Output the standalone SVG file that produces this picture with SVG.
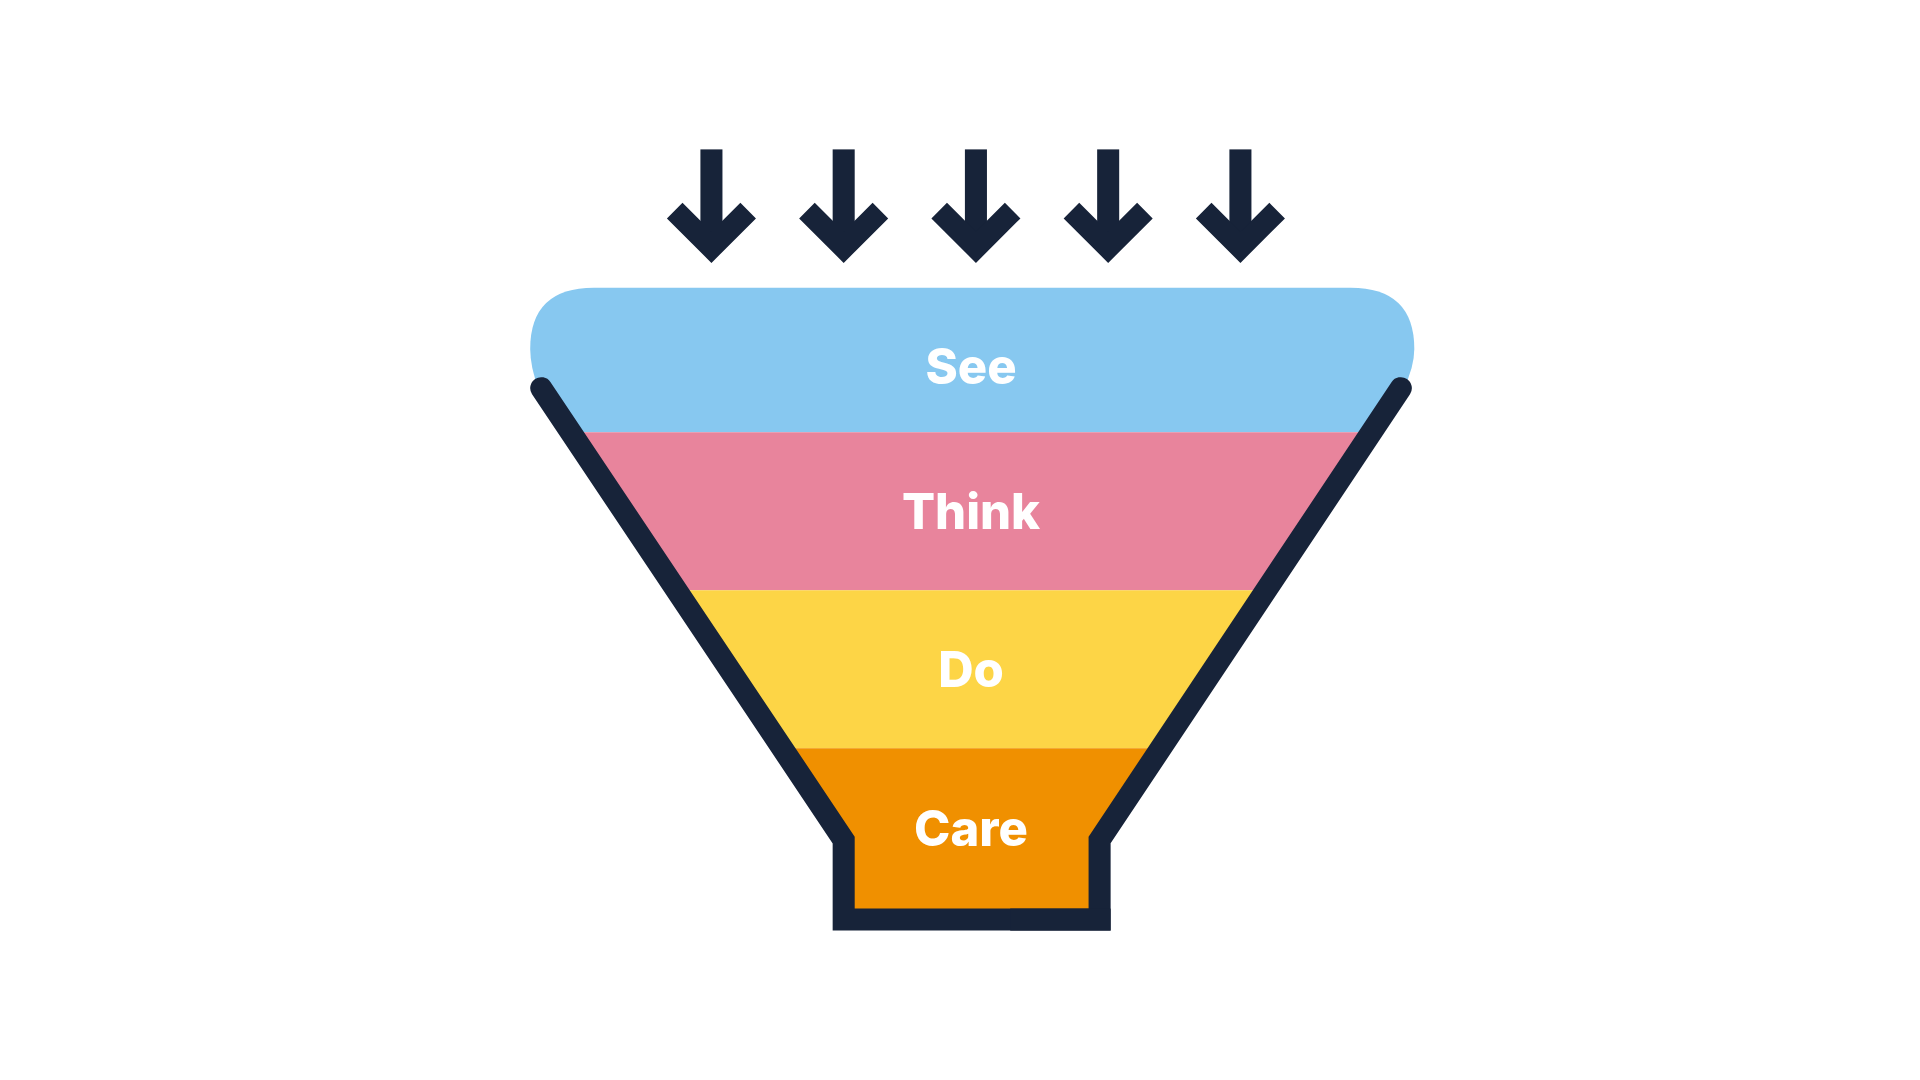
<svg xmlns="http://www.w3.org/2000/svg" width="1920" height="1080" viewBox="0 0 1920 1080">
<style>
.lbl{font-family:Inter,"Liberation Sans",sans-serif;font-weight:800;font-size:40px;fill:#fff;text-anchor:middle}
.ln{fill:none;stroke:#172339;stroke-width:18}
</style>
<defs>
<g id="arr"><rect x="-9" y="122" width="18" height="72" fill="#172339"/><polyline points="-30,172 0,202 30,172" class="ln" stroke-width="20"/></g>
</defs>
<rect width="1920" height="1080" fill="#fff"/>
<g transform="scale(1.2245)">
<g id="arrows">
<use href="#arr" x="581"/><use href="#arr" x="689"/><use href="#arr" x="797"/><use href="#arr" x="905"/><use href="#arr" x="1013"/>
</g>
<g id="see"><path d="M433,285 Q433,235 485,235 L1103,235 Q1155,235 1155,285 Q1155,300 1146,318 L1120,353 L466,353 L440,318 Q433,300 433,285Z" fill="#87C8F0"/><text class="lbl" x="793" y="314">See</text></g>
<g id="think"><polygon points="466,353 1120,353 1034,482 552,482" fill="#E8849C"/><text class="lbl" x="793" y="432">Think</text></g>
<g id="do"><polygon points="552,482 1034,482 947,611 639,611" fill="#FDD546"/><text class="lbl" x="793" y="561">Do</text></g>
<g id="care"><polygon points="639,611 947,611 898,686 898,751 689,751 689,686" fill="#F09000"/><text class="lbl" x="793" y="691">Care</text></g>
<g id="connectors">
<polyline class="ln" stroke-linecap="round" points="442,317 689,686 689,751 898,751 898,686 1144,317"/>
<rect x="825" y="742" width="82" height="18" fill="#172339"/>
</g>
</g>
</svg>
